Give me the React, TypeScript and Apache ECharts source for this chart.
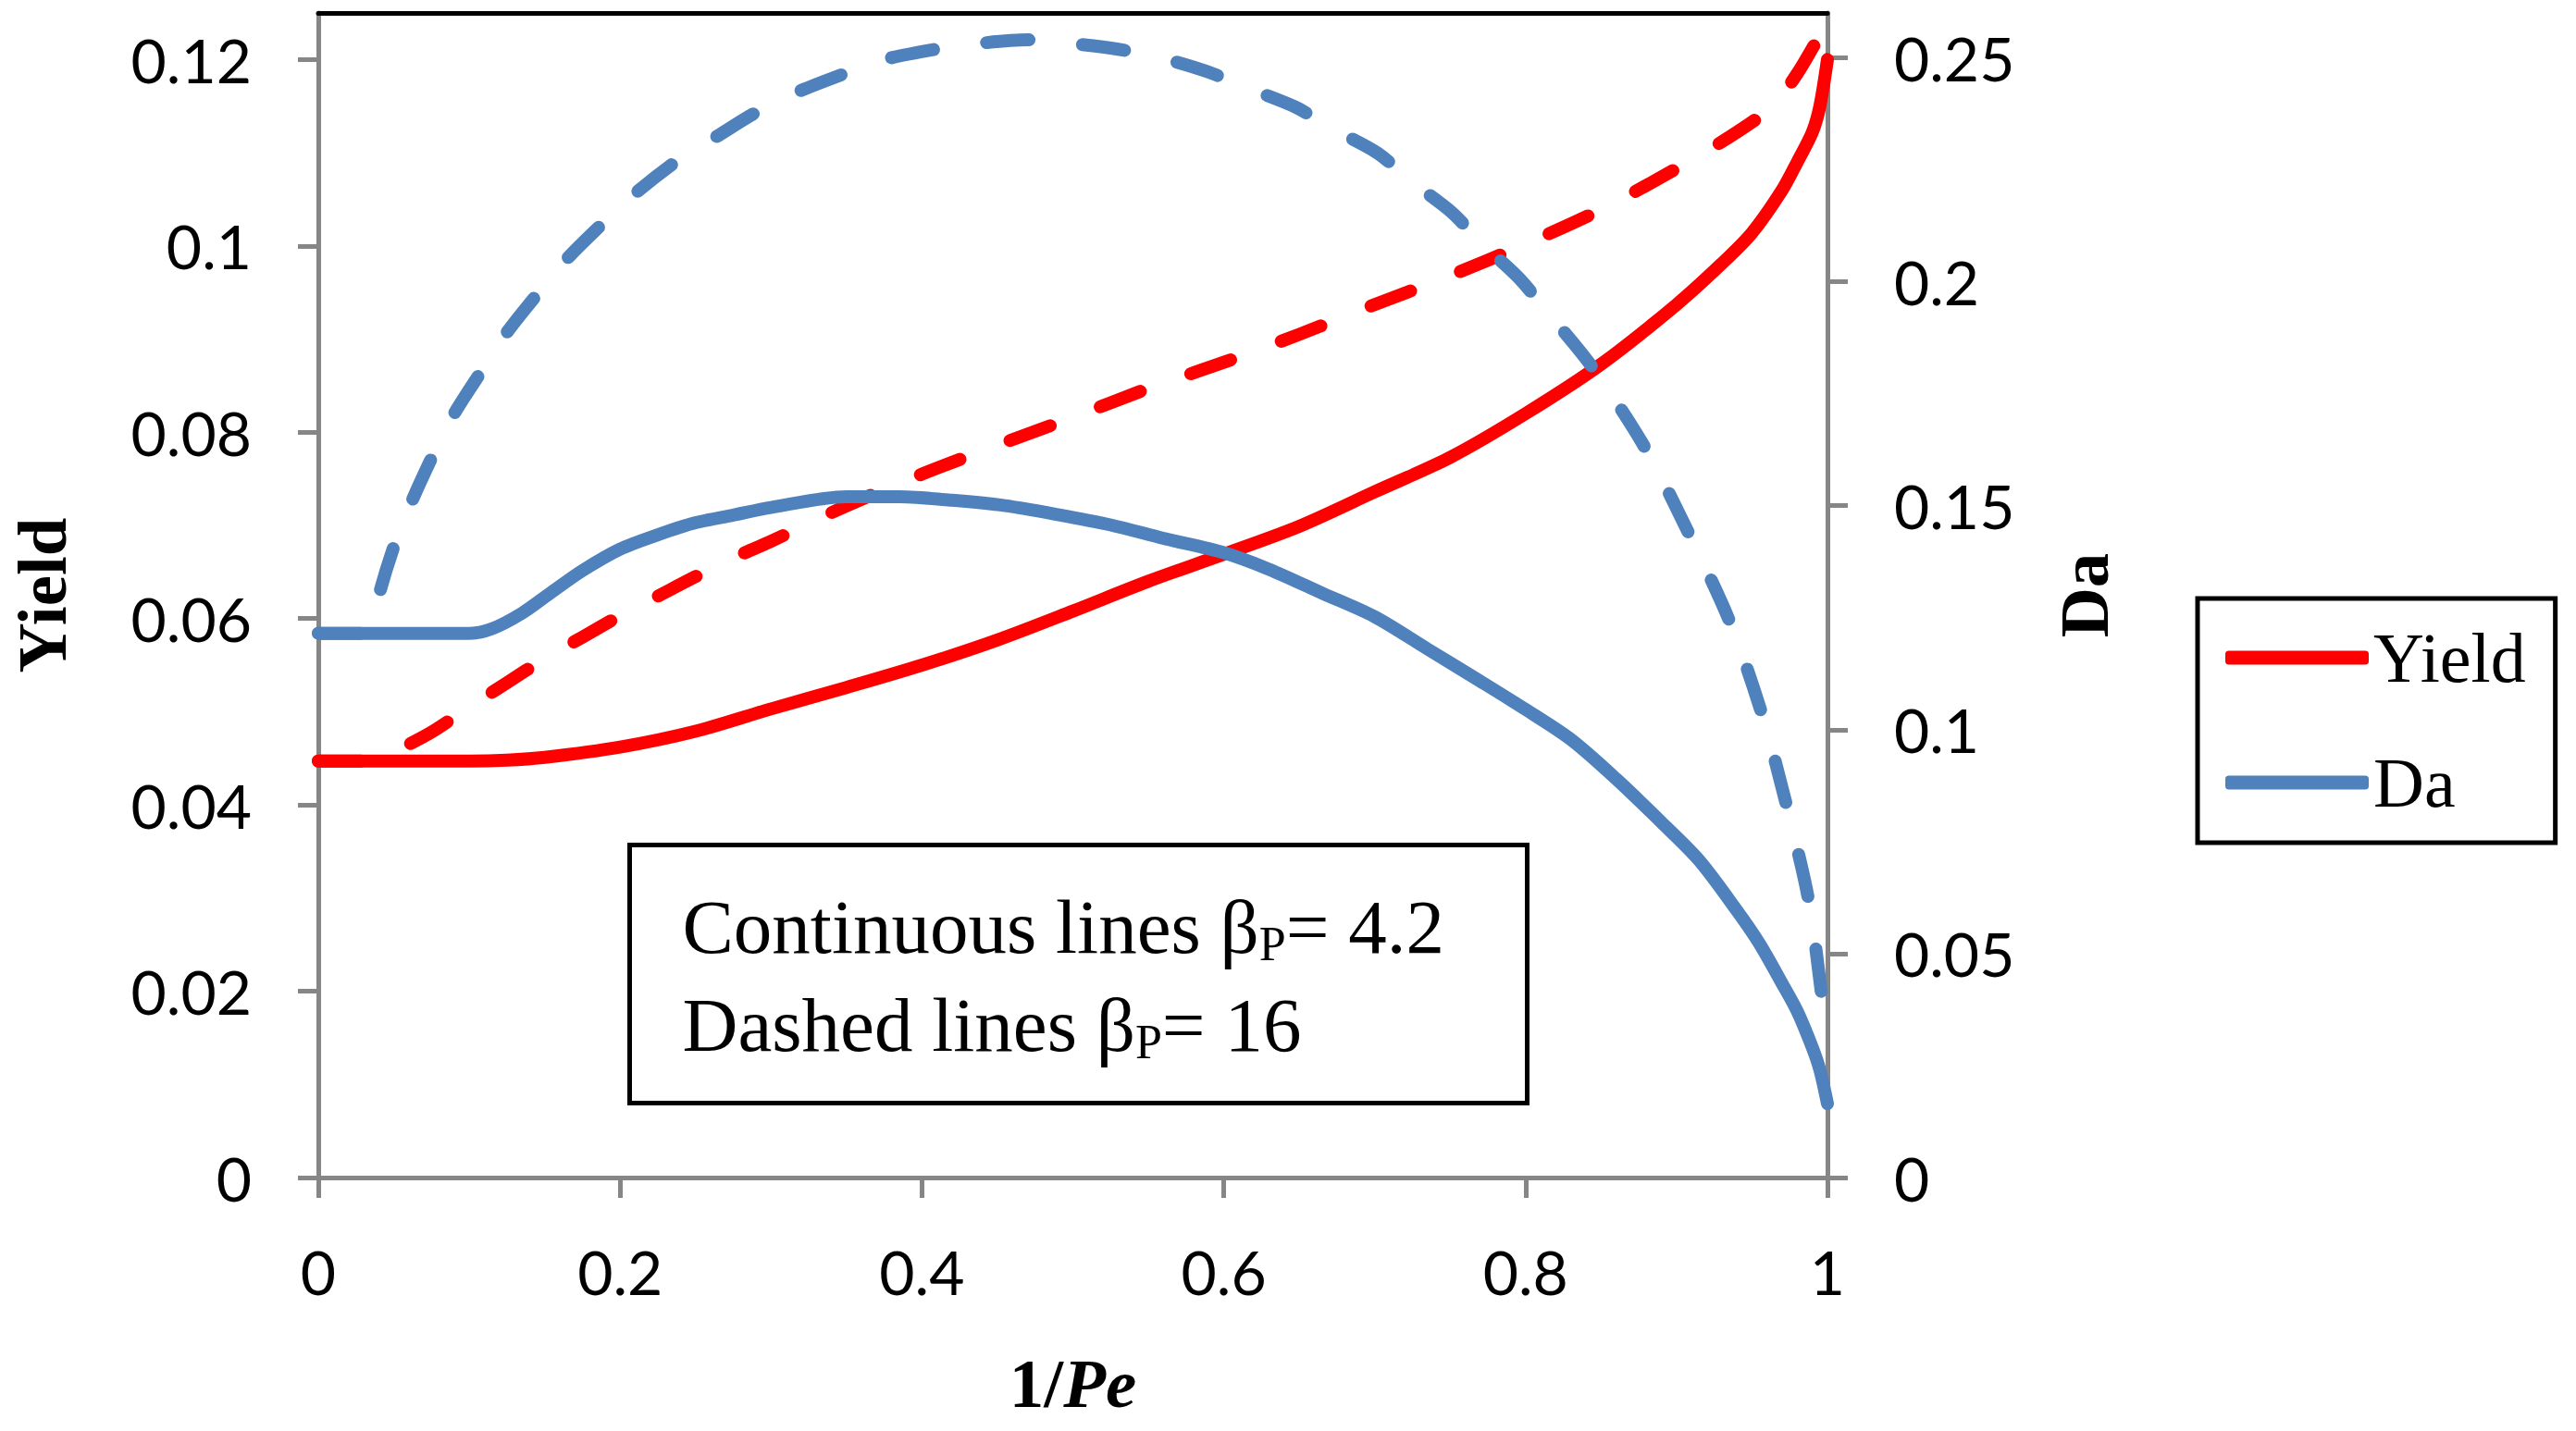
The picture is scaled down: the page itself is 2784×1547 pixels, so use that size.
import React, { useEffect, useRef } from "react";
import * as echarts from "echarts";

// ---- data ----
const xTicks = [0, 0.2, 0.4, 0.6, 0.8, 1];
const yieldTicks = [0, 0.02, 0.04, 0.06, 0.08, 0.1, 0.12];
const daTicks = [0, 0.05, 0.1, 0.15, 0.2, 0.25];

// Yield, beta_P = 4.2 (continuous)
const yieldSolid: [number, number][] = [
  [0, 0.0447], [0.05, 0.0447], [0.1, 0.0447], [0.125, 0.0448], [0.15, 0.0451],
  [0.2, 0.0462], [0.25, 0.0479], [0.3, 0.0503], [0.35, 0.0526], [0.4, 0.055],
  [0.45, 0.0577], [0.5, 0.0608], [0.55, 0.064], [0.6, 0.0669], [0.65, 0.0699],
  [0.7, 0.0736], [0.75, 0.0773], [0.8, 0.082], [0.85, 0.0873], [0.9, 0.0937],
  [0.93, 0.0981], [0.95, 0.1014], [0.97, 0.106], [0.98, 0.109], [0.99, 0.1122],
  [0.995, 0.115], [1.0, 0.12],
];

// Yield, beta_P = 16 (dashed)
const yieldDashed: [number, number][] = [
  [0, 0.0447], [0.035, 0.0447], [0.05, 0.0457], [0.075, 0.0478], [0.1, 0.0505],
  [0.125, 0.0531], [0.15, 0.0557], [0.175, 0.058], [0.2, 0.0603], [0.225, 0.0624],
  [0.25, 0.0645], [0.275, 0.0665], [0.3, 0.0683], [0.35, 0.0721], [0.4, 0.0755],
  [0.45, 0.0786], [0.5, 0.0816], [0.55, 0.0847], [0.6, 0.0875], [0.65, 0.0905],
  [0.7, 0.0937], [0.75, 0.0968], [0.8, 0.1002], [0.85, 0.1039], [0.9, 0.1083],
  [0.94, 0.1122], [0.965, 0.1152], [0.98, 0.1185], [0.99, 0.1212], [1.0, 0.124],
];

// Da, beta_P = 4.2 (continuous)
const daSolid: [number, number][] = [
  [0, 0.1215], [0.05, 0.1215], [0.1, 0.1215], [0.115, 0.1225], [0.135, 0.126],
  [0.155, 0.1308], [0.175, 0.1355], [0.2, 0.1403], [0.225, 0.1435], [0.25, 0.1462],
  [0.275, 0.1479], [0.3, 0.1496], [0.35, 0.152], [0.385, 0.152], [0.42, 0.1512],
  [0.455, 0.15], [0.49, 0.148], [0.525, 0.1457], [0.56, 0.1427], [0.6, 0.1395],
  [0.63, 0.1358], [0.665, 0.1305], [0.7, 0.1252], [0.735, 0.118], [0.77, 0.1108],
  [0.8, 0.1045], [0.83, 0.0978], [0.86, 0.089], [0.89, 0.0793], [0.915, 0.0708],
  [0.94, 0.0596], [0.955, 0.0522], [0.97, 0.0433], [0.98, 0.0371], [0.99, 0.029],
  [0.995, 0.024], [1.0, 0.0165],
];

// Da, beta_P = 16 (dashed)
const daDashed: [number, number][] = [
  [0, 0.1215], [0.033, 0.1215], [0.036, 0.123], [0.041, 0.131], [0.051, 0.1418],
  [0.062, 0.151], [0.077, 0.162], [0.09, 0.1705], [0.11, 0.181], [0.125, 0.1887],
  [0.147, 0.198], [0.165, 0.2052], [0.19, 0.2135], [0.211, 0.22], [0.239, 0.2273],
  [0.262, 0.232], [0.29, 0.2378], [0.315, 0.242], [0.349, 0.2465], [0.375, 0.2496],
  [0.409, 0.2519], [0.435, 0.2531], [0.47, 0.254], [0.496, 0.2533], [0.53, 0.2519],
  [0.558, 0.25], [0.589, 0.2469], [0.616, 0.2432], [0.648, 0.2389], [0.67, 0.2345],
  [0.702, 0.2287], [0.723, 0.2227], [0.751, 0.2155], [0.771, 0.2085], [0.795, 0.201],
  [0.815, 0.193], [0.844, 0.181], [0.879, 0.163], [0.909, 0.1432], [0.936, 0.1235],
  [0.957, 0.103], [0.974, 0.0816], [0.988, 0.0611], [0.997, 0.0388], [1.0, 0.0337],
];

const RED = "#FF0000";
const BLUE = "#4F81BD";
const AXIS_GRAY = "#868686";
const SERIF = "Liberation Serif";
const SANS = "Lato";
const LINE_W = 14;
const DASH = [46, 58];

export default function App() {
  const ref = useRef<HTMLDivElement>(null);

  useEffect(() => {
    if (!ref.current) return;
    const chart = echarts.init(ref.current, undefined, { renderer: "svg" });

    const axisLine = { show: true, onZero: false, lineStyle: { color: AXIS_GRAY, width: 5 } };
    const axisTick = { show: true, length: 22, lineStyle: { color: AXIS_GRAY, width: 5 } };
    const tickLabel = { fontFamily: SANS, fontSize: 66, color: "#000" };
    const titleStyle = { fontFamily: SERIF, fontWeight: "bold", fontSize: 75, color: "#000" };

    const lineSeries = (name: string, data: [number, number][], color: string, yAxisIndex: number, dashed: boolean) => ({
      name,
      type: "line",
      data,
      yAxisIndex,
      symbol: "none",
      showSymbol: false,
      smooth: 0.3,
      lineStyle: {
        color,
        width: LINE_W,
        type: dashed ? DASH : "solid",
        cap: "round",
        join: "round",
      },
      itemStyle: { color },
      z: 3,
    });

    chart.setOption({
      animation: false,
      backgroundColor: "#fff",
      grid: { left: 343, right: 809, top: 14, bottom: 274, containLabel: false },
      xAxis: [
        {
          type: "value",
          min: 0,
          max: 1,
          interval: 0.2,
          position: "bottom",
          axisLine,
          axisTick: { ...axisTick, customValues: xTicks },
          axisLabel: { ...tickLabel, margin: 68, customValues: xTicks },
          splitLine: { show: false },
          name: "{b|1/}{i|Pe}",
          nameLocation: "middle",
          nameGap: 185,
          nameTextStyle: {
            rich: {
              b: { ...titleStyle },
              i: { ...titleStyle, fontStyle: "italic" },
            },
          },
        },
        {
          type: "value",
          min: 0,
          max: 1,
          position: "top",
          axisLine: { show: true, onZero: false, lineStyle: { color: "#000", width: 5 } },
          axisTick: { show: false },
          axisLabel: { show: false },
          splitLine: { show: false },
        },
      ],
      yAxis: [
        {
          type: "value",
          min: 0,
          max: 0.125,
          interval: 0.02,
          position: "left",
          axisLine,
          axisTick: { ...axisTick, customValues: yieldTicks },
          axisLabel: { ...tickLabel, margin: 72, customValues: yieldTicks },
          splitLine: { show: false },
          name: "Yield",
          nameLocation: "middle",
          nameRotate: 90,
          nameGap: 261,
          nameTextStyle: titleStyle,
        },
        {
          type: "value",
          min: 0,
          max: 0.26,
          interval: 0.05,
          position: "right",
          axisLine,
          axisTick: { ...axisTick, customValues: daTicks },
          axisLabel: { ...tickLabel, margin: 72, customValues: daTicks },
          splitLine: { show: false },
          name: "Da",
          nameLocation: "middle",
          nameRotate: 90,
          nameGap: 240,
          nameTextStyle: titleStyle,
        },
      ],
      legend: {
        show: true,
        orient: "vertical",
        left: 2375,
        top: 647,
        data: ["Yield", "Da"],
        icon: "roundRect",
        itemWidth: 155,
        itemHeight: 15,
        itemGap: 59,
        padding: [26, 32, 27, 30],
        borderColor: "#000",
        borderWidth: 5,
        backgroundColor: "#fff",
        selectedMode: false,
        textStyle: { fontFamily: SERIF, fontSize: 76, color: "#000" },
      },
      series: [
        lineSeries("Yield", yieldSolid, RED, 0, false),
        lineSeries("Yield (βP = 16)", yieldDashed, RED, 0, true),
        lineSeries("Da", daSolid, BLUE, 1, false),
        lineSeries("Da (βP = 16)", daDashed, BLUE, 1, true),
      ],
      graphic: [
        {
          type: "group",
          left: 678,
          top: 911,
          children: [
            {
              type: "rect",
              shape: { x: 0, y: 0, width: 970, height: 279 },
              style: { fill: "#fff", stroke: "#000", lineWidth: 5 },
            },
            {
              type: "text",
              x: 57,
              y: 43,
              style: {
                text: "{a|Continuous lines β}{s|P}{a|= 4.2}",
                fill: "#000",
                verticalAlign: "top",
                rich: {
                  a: { fontFamily: SERIF, fontSize: 83, lineHeight: 90, fill: "#000" },
                  s: { fontFamily: SERIF, fontSize: 52, lineHeight: 30, verticalAlign: "bottom", fill: "#000" },
                },
              },
            },
            {
              type: "text",
              x: 57,
              y: 149,
              style: {
                text: "{a|Dashed lines β}{s|P}{a|= 16}",
                fill: "#000",
                verticalAlign: "top",
                rich: {
                  a: { fontFamily: SERIF, fontSize: 83, lineHeight: 90, fill: "#000" },
                  s: { fontFamily: SERIF, fontSize: 52, lineHeight: 30, verticalAlign: "bottom", fill: "#000" },
                },
              },
            },
          ],
        },
      ],
    });

    return () => chart.dispose();
  }, []);

  return (
    <div
      ref={ref}
      style={{ position: "fixed", left: 0, top: 0, width: 2784, height: 1547, background: "#fff" }}
    />
  );
}
